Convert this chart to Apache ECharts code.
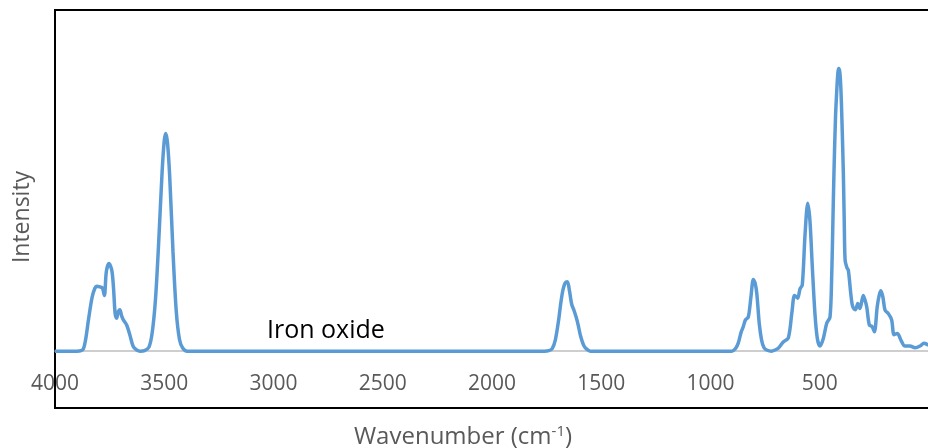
<!DOCTYPE html>
<html>
<head>
<meta charset="utf-8">
<script src="https://cdn.jsdelivr.net/npm/echarts@6/dist/echarts.min.js"></script>
<style>
  html, body { margin: 0; padding: 0; background: #fff; }
  #chart { width: 928px; height: 448px; }
</style>
</head>
<body>
<div id="chart"></div>
<script>
// FTIR spectrum of iron oxide: wavenumber (cm-1) and relative intensity
const wavenumber = [
  4000, 3900, 3880, 3870, 3860, 3845, 3830, 3817, 3809, 3795, 3783, 3774, 3765, 3753, 3740, 3732,
  3725, 3718, 3710, 3703, 3695, 3687, 3672, 3657, 3642, 3626, 3610, 3590, 3570, 3555, 3540, 3525,
  3510, 3500, 3493, 3485, 3475, 3460, 3445, 3430, 3415, 3395, 3300, 2800, 2300, 1800, 1780, 1760,
  1740, 1725, 1710, 1695, 1685, 1675, 1665, 1655, 1645, 1635, 1625, 1615, 1605, 1595, 1580, 1565,
  1550, 1500, 1200, 950, 903, 885, 873, 860, 850, 840, 827, 815, 804, 796, 788, 777,
  766, 755, 743, 720, 705, 690, 667, 644, 628, 616, 608, 601, 590, 580, 567, 555,
  545, 534, 522, 511, 499, 484, 468, 453, 445, 440, 435, 428, 422, 417, 413, 408,
  403, 398, 392, 388, 384, 376, 369, 358, 351, 343, 336, 326, 316, 301, 293, 285,
  273, 260, 250, 237, 228, 220, 211, 201, 186, 171, 160, 145, 128, 110, 87, 64,
  41, 23, 4, 0
];
const intensity = [
  0, 0, 0.01, 0.04, 0.2, 0.6, 0.95, 1.11, 1.14, 1.13, 1.11, 0.98, 1.4, 1.54, 1.42, 1.1,
  0.67, 0.58, 0.7, 0.73, 0.62, 0.55, 0.46, 0.28, 0.08, 0.02, 0, 0.01, 0.07, 0.33, 0.92, 1.95,
  3.14, 3.70, 3.83, 3.66, 3.07, 1.75, 0.70, 0.2, 0.05, 0, 0, 0, 0, 0, 0, 0,
  0.01, 0.04, 0.2, 0.55, 0.85, 1.08, 1.2, 1.22, 1.05, 0.82, 0.72, 0.6, 0.45, 0.27, 0.1, 0.03,
  0, 0, 0, 0, 0, 0.05, 0.14, 0.33, 0.43, 0.55, 0.6, 0.95, 1.26, 1.2, 1.01, 0.49,
  0.19, 0.06, 0.02, 0, 0.02, 0.05, 0.16, 0.23, 0.66, 0.98, 0.96, 0.93, 1.10, 1.16, 2.07, 2.60,
  2.30, 1.48, 0.66, 0.22, 0.09, 0.22, 0.49, 0.60, 1.37, 2.25, 3.13, 4.1, 4.59, 4.9, 4.97, 4.9,
  4.59, 4.0, 3.13, 2.3, 1.60, 1.47, 1.42, 1.01, 0.81, 0.74, 0.73, 0.84, 0.75, 0.98, 0.9, 0.78,
  0.46, 0.43, 0.34, 0.78, 0.98, 1.06, 0.95, 0.72, 0.66, 0.55, 0.29, 0.31, 0.19, 0.09, 0.09, 0.06,
  0.09, 0.14, 0.11, 0.1
];
const sampleName = 'Iron oxide';
const xTitle = 'Wavenumber (cm';
const yTitle = 'Intensity';

const spectrum = wavenumber.map((w, i) => [w, intensity[i]]);
const FONT = '"Open Sans", "DejaVu Sans", sans-serif';

// plot box: 398 px tall, y from -1 to 6, so the zero line sits 57 px above the bottom edge
const GRID_H = 398;
const Y_MIN = -1, Y_MAX = 6;
const zeroOffset = GRID_H * (0 - Y_MIN) / (Y_MAX - Y_MIN);

const chart = echarts.init(document.getElementById('chart'), null, { renderer: 'canvas' });
chart.setOption({
  animation: false,
  backgroundColor: '#ffffff',
  grid: {
    left: 55, top: 10, width: 874, height: GRID_H,
    outerBoundsMode: 'none',
    containLabel: false,
    show: true, borderColor: '#000000', borderWidth: 2, backgroundColor: 'transparent'
  },
  xAxis: {
    type: 'value',
    inverse: true,
    min: 0, max: 4000, interval: 500,
    offset: -zeroOffset,
    axisLine: { onZero: false, lineStyle: { color: '#BFBFBF', width: 1.5 } },
    axisTick: { show: false },
    splitLine: { show: false },
    axisLabel: {
      margin: 22,
      color: '#595959',
      fontFamily: FONT,
      fontSize: 21,
      formatter: v => (v === 0 ? '' : String(v))
    }
  },
  yAxis: {
    type: 'value',
    min: Y_MIN, max: Y_MAX,
    show: false,
    splitLine: { show: false }
  },
  series: [{
    type: 'line',
    data: spectrum,
    smooth: 0.3,
    symbol: 'none',
    lineStyle: { color: '#5B9BD5', width: 3.5 },
    z: 3
  }],
  graphic: [
    {
      type: 'text', left: 267, top: 318, z: 10,
      style: { text: sampleName, fill: '#000000', font: '25px ' + FONT }
    },
    {
      type: 'text', x: 22, y: 217, rotation: Math.PI / 2, z: 10,
      style: { text: yTitle, fill: '#595959', font: '23px ' + FONT, align: 'center', verticalAlign: 'middle' }
    },
    {
      type: 'text', x: 463, y: 437, z: 10,
      style: {
        text: '{t|' + xTitle + '}{s|-1}{t|)}',
        align: 'center', verticalAlign: 'middle',
        rich: {
          t: { fill: '#595959', fontFamily: FONT, fontSize: 24 },
          s: { fill: '#595959', fontFamily: FONT, fontSize: 15, verticalAlign: 'top', padding: [0, 0, 10, 0] }
        }
      }
    }
  ]
});
</script>
</body>
</html>
